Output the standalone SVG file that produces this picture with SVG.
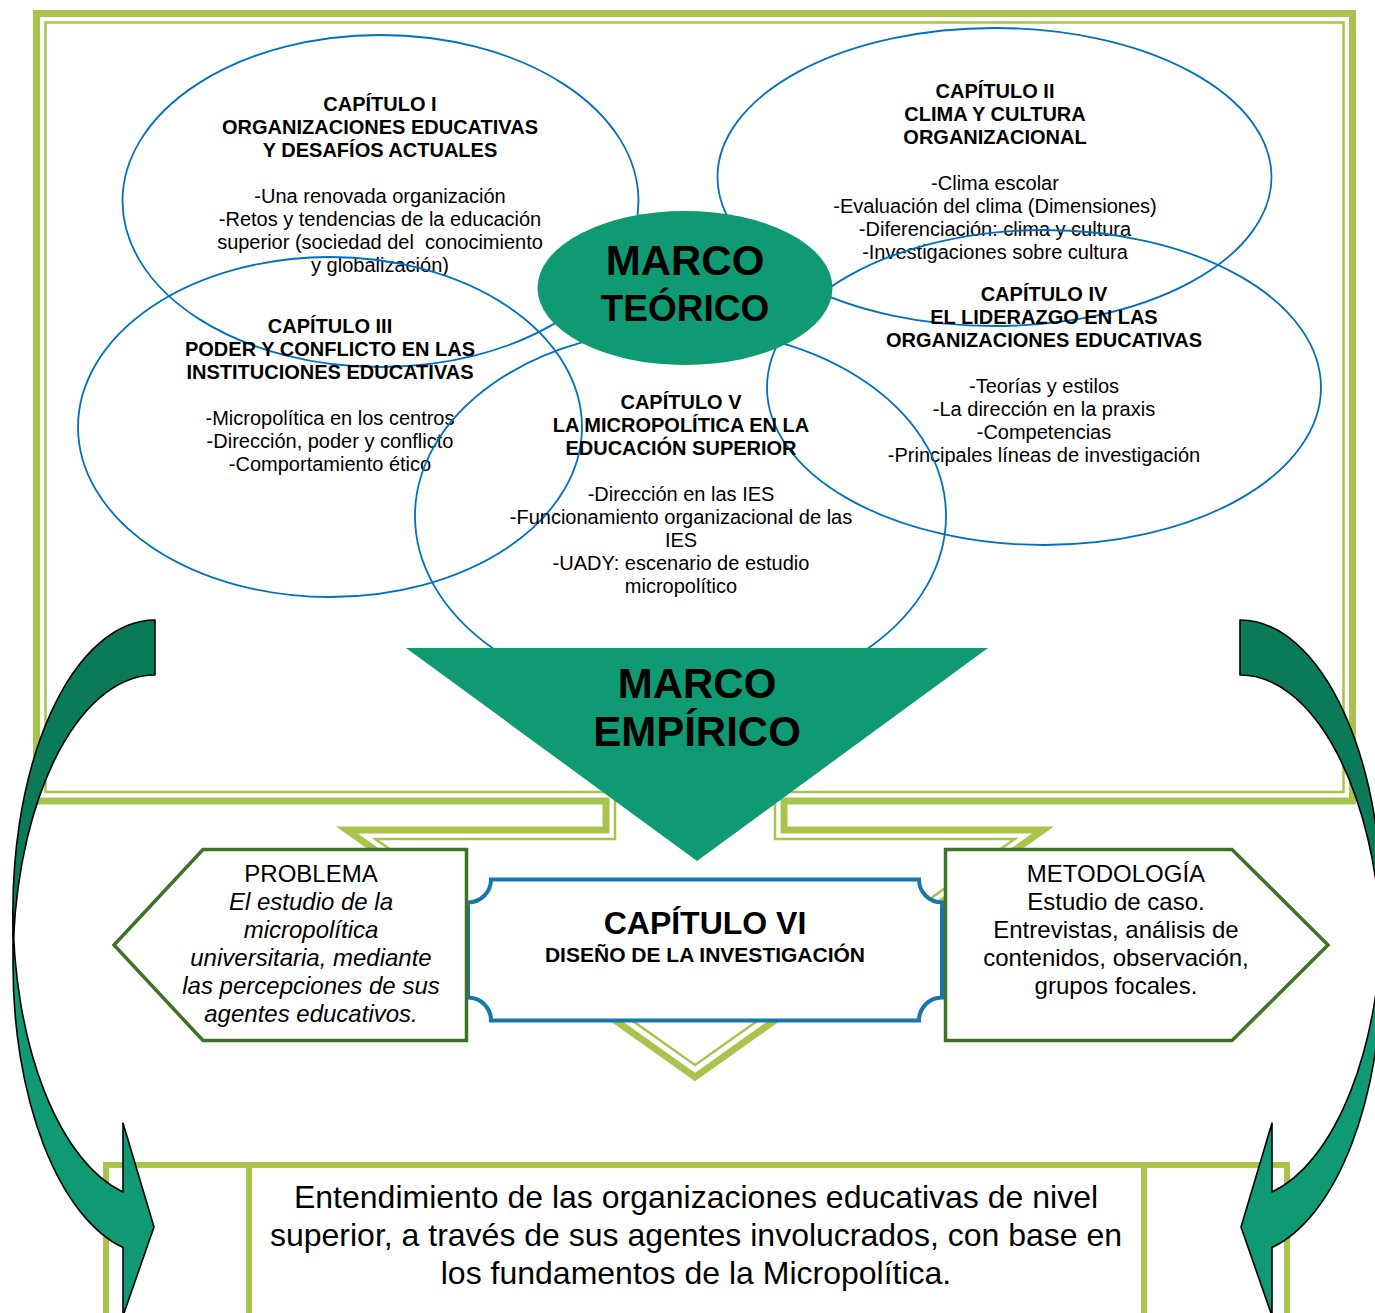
<svg xmlns="http://www.w3.org/2000/svg" xmlns:xlink="http://www.w3.org/1999/xlink" width="1375" height="1313" viewBox="0 0 1375 1313">
<style>
text{font-family:"Liberation Sans",Arial,sans-serif;text-anchor:middle;fill:#000}
.fthick{fill:#fff;stroke:#A8C44C;stroke-width:7;stroke-linejoin:miter}
.fthin{fill:none;stroke:#A8C44C;stroke-width:2.5;stroke-linejoin:miter}
.ell{fill:none;stroke:#0070C0;stroke-width:1.8}
.h{font-weight:bold;font-size:20px}
.b{font-size:20px}
.teal{fill:#109A73}
.hexa{fill:#fff;stroke:#3F7228;stroke-width:3.5}
.t24{font-size:24px}
.front{fill:#109A73;stroke:#000;stroke-width:1.6;stroke-linejoin:round}
.back{fill:#0B7A58;stroke:#000;stroke-width:1.6;stroke-linejoin:round}
</style>
<defs>
<g id="curvedArrow">
<path class="front" d="M 13,910 A 142 290 0 0 0 123,1192 L 123,1123 L 154,1227 L 123,1316 L 123,1247.5 A 142 290 0 0 1 13,965 Z"/>
<path class="back" d="M 155,620 A 142 290 0 0 0 13.6,937.5 A 142 290 0 0 1 155,675 Z"/>
</g>
</defs>
<rect width="1375" height="1313" fill="#fff"/>

<g id="frame">
<path class="fthick" d="M 36.5,13.5 H 1352.5 V 801 H 784 V 830 H 1043 L 695,1077 L 347,830 H 606 V 801 H 36.5 Z"/>
<path class="fthin" d="M 45.5,22.5 H 1343.5 V 792 H 775 V 839 H 1014.7 L 695,1065 L 375.3,839 H 615 V 792 H 45.5 Z"/>
</g>

<g id="cap1">
<ellipse class="ell" cx="380.5" cy="201" rx="258" ry="166"/>
<text x="380" y="110.5" class="h">CAPÍTULO I</text>
<text x="380" y="133.5" class="h">ORGANIZACIONES EDUCATIVAS</text>
<text x="380" y="156.5" class="h">Y DESAFÍOS ACTUALES</text>
<text x="380" y="202.5" class="b">-Una renovada organización</text>
<text x="380" y="225.5" class="b">-Retos y tendencias de la educación</text>
<text x="380" y="248.5" class="b" xml:space="preserve">superior (sociedad del  conocimiento</text>
<text x="380" y="271.5" class="b">y globalización)</text>
</g>

<g id="cap2">
<ellipse class="ell" cx="994.5" cy="177" rx="277" ry="149"/>
<text x="995" y="98" class="h">CAPÍTULO II</text>
<text x="995" y="121" class="h">CLIMA Y CULTURA</text>
<text x="995" y="144" class="h">ORGANIZACIONAL</text>
<text x="995" y="190" class="b">-Clima escolar</text>
<text x="995" y="213" class="b">-Evaluación del clima (Dimensiones)</text>
<text x="995" y="236" class="b">-Diferenciación: clima y cultura</text>
<text x="995" y="259" class="b">-Investigaciones sobre cultura</text>
</g>

<g id="cap3">
<ellipse class="ell" cx="330" cy="427" rx="252" ry="170"/>
<text x="330" y="333" class="h">CAPÍTULO III</text>
<text x="330" y="356" class="h">PODER Y CONFLICTO EN LAS</text>
<text x="330" y="379" class="h">INSTITUCIONES EDUCATIVAS</text>
<text x="330" y="425" class="b">-Micropolítica en los centros</text>
<text x="330" y="448" class="b">-Dirección, poder y conflicto</text>
<text x="330" y="471" class="b">-Comportamiento ético</text>
</g>

<g id="cap4">
<ellipse class="ell" cx="1044" cy="387.5" rx="277" ry="157.5"/>
<text x="1044" y="301" class="h">CAPÍTULO IV</text>
<text x="1044" y="324" class="h">EL LIDERAZGO EN LAS</text>
<text x="1044" y="347" class="h">ORGANIZACIONES EDUCATIVAS</text>
<text x="1044" y="393" class="b">-Teorías y estilos</text>
<text x="1044" y="416" class="b">-La dirección en la praxis</text>
<text x="1044" y="439" class="b">-Competencias</text>
<text x="1044" y="462" class="b">-Principales líneas de investigación</text>
</g>

<g id="cap5">
<ellipse class="ell" cx="680.5" cy="516" rx="265.5" ry="187"/>
<text x="681" y="409" class="h">CAPÍTULO V</text>
<text x="681" y="432" class="h">LA MICROPOLÍTICA EN LA</text>
<text x="681" y="455" class="h">EDUCACIÓN SUPERIOR</text>
<text x="681" y="501" class="b">-Dirección en las IES</text>
<text x="681" y="524" class="b">-Funcionamiento organizacional de las</text>
<text x="681" y="547" class="b">IES</text>
<text x="681" y="570" class="b">-UADY: escenario de estudio</text>
<text x="681" y="593" class="b">micropolítico</text>
</g>

<g id="marcoTeorico">
<ellipse class="teal" cx="685" cy="288" rx="147.5" ry="77"/>
<text x="685" y="275" style="font-weight:bold;font-size:42px">MARCO</text>
<text x="685" y="321" style="font-weight:bold;font-size:37px">TEÓRICO</text>
</g>

<g id="marcoEmpirico">
<polygon class="teal" points="406,648 988,648 697,861"/>
<text x="697" y="698" style="font-weight:bold;font-size:42px">MARCO</text>
<text x="697" y="746" style="font-weight:bold;font-size:42px">EMPÍRICO</text>
</g>

<g id="capitulo6">
<path d="M 491,879.5 H 919 A 23 23 0 0 0 942,902.5 V 997.5 A 23 23 0 0 0 919,1020.5 H 491 A 23 23 0 0 0 468,997.5 V 902.5 A 23 23 0 0 0 491,879.5 Z" fill="#fff" stroke="#1578A8" stroke-width="4"/>
<text x="705" y="934" style="font-weight:bold;font-size:32px">CAPÍTULO VI</text>
<text x="705" y="962" style="font-weight:bold;font-size:21px">DISEÑO DE LA INVESTIGACIÓN</text>
</g>

<g id="problema">
<polygon class="hexa" points="203,849.5 466.5,849.5 466.5,1040.5 203,1040.5 114,945"/>
<text x="311" y="882" class="t24">PROBLEMA</text>
<text x="311" y="910" class="t24" font-style="italic">El estudio de la</text>
<text x="311" y="938" class="t24" font-style="italic">micropolítica</text>
<text x="311" y="966" class="t24" font-style="italic">universitaria, mediante</text>
<text x="311" y="994" class="t24" font-style="italic">las percepciones de sus</text>
<text x="311" y="1022" class="t24" font-style="italic">agentes educativos.</text>
</g>

<g id="metodologia">
<polygon class="hexa" points="945.5,849.5 1232,849.5 1328,945 1232,1040.5 945.5,1040.5"/>
<text x="1116" y="882" class="t24">METODOLOGÍA</text>
<text x="1116" y="910" class="t24">Estudio de caso.</text>
<text x="1116" y="938" class="t24">Entrevistas, análisis de</text>
<text x="1116" y="966" class="t24">contenidos, observación,</text>
<text x="1116" y="994" class="t24">grupos focales.</text>
</g>

<g id="conclusion">
<rect x="106" y="1165" width="1181" height="170" fill="#fff" stroke="#A8C44C" stroke-width="6"/>
<line x1="249" y1="1165" x2="249" y2="1320" stroke="#A8C44C" stroke-width="6"/>
<line x1="1144" y1="1165" x2="1144" y2="1320" stroke="#A8C44C" stroke-width="6"/>
<text x="696" y="1208" style="font-size:32px">Entendimiento de las organizaciones educativas de nivel</text>
<text x="696" y="1246" style="font-size:32px">superior, a través de sus agentes involucrados, con base en</text>
<text x="696" y="1284" style="font-size:32px">los fundamentos de la Micropolítica.</text>
</g>

<g id="connectors">
<use xlink:href="#curvedArrow" href="#curvedArrow"/>
<use xlink:href="#curvedArrow" href="#curvedArrow" transform="matrix(-1,0,0,1,1395,0)"/>
</g>
</svg>
